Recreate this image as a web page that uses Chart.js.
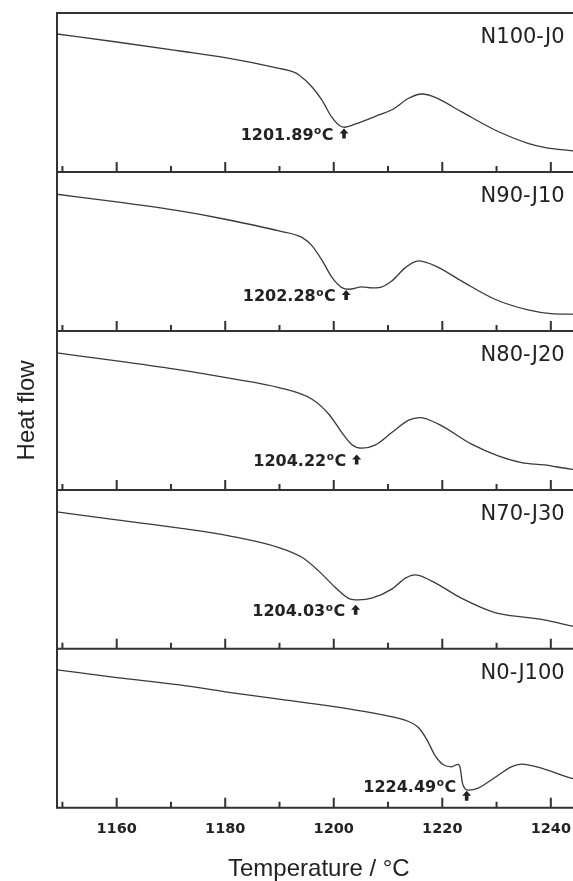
<!DOCTYPE html>
<html>
<head>
<meta charset="utf-8">
<script src="https://cdn.jsdelivr.net/npm/chart.js@4.4.1/dist/chart.umd.min.js"></script>
<style>
  html, body { margin: 0; padding: 0; background: #fff; overflow: hidden; }
  #wrap { width: 573px; height: 881px; overflow: hidden; }
</style>
</head>
<body>
<div id="wrap"><canvas id="dsc" width="584" height="881"></canvas></div>
<script>
// sample names (top to bottom)
const samples = ['N100-J0', 'N90-J10', 'N80-J20', 'N70-J30', 'N0-J100'];

// temperature readings and heat flow (arbitrary units) for each sample
const tN100 = [1149, 1160, 1171.6, 1180, 1189.9, 1192.4, 1193.6, 1196, 1197.8, 1199.6, 1200.9, 1202, 1204, 1208.3, 1211, 1213.8, 1216.2, 1218.7, 1223.5, 1229.7, 1235.8, 1238.8, 1243.7, 1246];
const hN100 = [138, 130, 121, 114.3, 103.7, 100.3, 97, 85, 72, 55, 47, 44.7, 48, 57, 63, 73.7, 78, 74.7, 60.3, 42, 28.7, 24.7, 21.3, 20];

const tN90 = [1149, 1160, 1171.6, 1180, 1189.9, 1194.2, 1196, 1197.9, 1199.7, 1201.5, 1202.8, 1205.2, 1207, 1208.3, 1210.7, 1213.2, 1215.6, 1218.7, 1223.5, 1229.7, 1235.8, 1240, 1243.7, 1246];
const hN90 = [136.7, 129, 120, 111.7, 100, 93.3, 85, 70, 53.3, 43.3, 41.7, 44, 43, 43.3, 50, 63.3, 70, 65, 50, 31.7, 21, 17.3, 16.7, 16.5];

const tN80 = [1149, 1160, 1171.6, 1180.7, 1189.9, 1196, 1199.1, 1201.5, 1203.4, 1205.2, 1207.6, 1210.7, 1213.8, 1215.9, 1219.3, 1225.4, 1230.3, 1234.6, 1238.8, 1243.7, 1246];
const hN80 = [137, 129, 120, 111.7, 102.3, 90.7, 75.7, 57.3, 45, 41.7, 44.7, 57.3, 69.7, 72.3, 65.7, 45.7, 34, 27.3, 25, 20.7, 19.5];

const tN70 = [1149, 1160, 1171.6, 1180.7, 1189.9, 1194.2, 1197.2, 1200.3, 1202.8, 1204.6, 1207, 1210.7, 1213.2, 1215, 1218, 1223.5, 1229.7, 1235.8, 1238.8, 1243.7, 1246];
const hN70 = [137, 129, 120.7, 113, 101.3, 91.3, 78, 61.3, 50.3, 49, 50.7, 59.7, 70.7, 74, 68, 50.7, 36.3, 31.3, 29, 23, 21];

const tN0 = [1149, 1160, 1171.6, 1180, 1189.9, 1208.3, 1213.8, 1215.6, 1217.1, 1218.7, 1220.2, 1221.7, 1222.9, 1223.3, 1223.7, 1224.3, 1224.8, 1226.6, 1229.7, 1232.7, 1234.6, 1238.8, 1243.7, 1246];
const hN0 = [138, 130.3, 123, 116, 108.7, 93.7, 86.3, 80.3, 68.7, 52, 43, 41, 43.5, 40, 25, 18.5, 17.7, 19.7, 30.3, 41, 43.7, 38.7, 29.7, 27];

// marked temperatures
const peakTemps = [1201.89, 1202.28, 1204.22, 1204.03, 1224.49];

// x axis ticks
const majorTicks = [1160, 1180, 1200, 1220, 1240];
const minorTicks = [1150, 1170, 1190, 1210, 1230];

const temps = [tN100, tN90, tN80, tN70, tN0];
const flows = [hN100, hN90, hN80, hN70, hN0];

// where the arrow / text sit inside each panel (panel units, 0 = bottom)
const arrowLift = [38.5, 36, 30.5, 39, 12];
const textLift = [36.5, 34, 28.5, 37, 20.3];

const panelIds = samples.map((s, i) => 'y' + i);

const datasets = samples.map((name, i) => ({
    label: name,
    data: temps[i].map((t, k) => ({ x: t, y: flows[i][k] })),
    yAxisID: panelIds[i],
    borderColor: '#3a3a3a',
    borderWidth: 1.3,
    pointRadius: 0,
    fill: false,
    cubicInterpolationMode: 'monotone'
}));

const scales = {
    x: {
        type: 'linear',
        min: 1149,
        max: 1245.5,
        grid: { display: false, drawTicks: false },
        border: { display: false },
        afterBuildTicks: (axis) => { axis.ticks = majorTicks.map(v => ({ value: v })); },
        ticks: {
            padding: 13,
            color: '#222',
            font: { family: 'DejaVu Sans', size: 14.5, weight: 'bold' },
            callback: (v) => String(v)
        },
        title: {
            display: true,
            text: 'Temperature / °C',
            color: '#222',
            font: { family: 'Liberation Sans', size: 24 },
            padding: { top: 4, bottom: -3 }
        }
    }
};
// defined last-first so the first sample ends up on top of the stack
for (let i = panelIds.length - 1; i >= 0; i--) {
    scales[panelIds[i]] = {
        type: 'linear',
        position: 'left',
        stack: 'panels',
        stackWeight: 1,
        min: 0,
        max: 159,
        ticks: { display: false },
        grid: { display: false, drawTicks: false },
        border: { display: false }
    };
}

function drawArrow(ctx, x, y) {
    // small filled up arrow centered on (x, y)
    ctx.beginPath();
    ctx.moveTo(x, y - 5);
    ctx.lineTo(x + 4.5, y);
    ctx.lineTo(x + 1.8, y);
    ctx.lineTo(x + 1.8, y + 5);
    ctx.lineTo(x - 1.8, y + 5);
    ctx.lineTo(x - 1.8, y);
    ctx.lineTo(x - 4.5, y);
    ctx.closePath();
    ctx.fill();
}

const panelFrame = {
    id: 'panelFrame',
    afterDatasetsDraw(chart) {
        const { ctx, chartArea: a } = chart;
        const xs = chart.scales.x;
        ctx.save();
        ctx.strokeStyle = '#333';
        ctx.lineWidth = 2;
        ctx.beginPath();
        ctx.moveTo(a.left, a.top);
        ctx.lineTo(a.right, a.top);
        ctx.moveTo(a.left, a.top - 1);
        ctx.lineTo(a.left, a.bottom + 1);
        ctx.stroke();

        panelIds.forEach((id, i) => {
            const ys = chart.scales[id];
            const b = ys.bottom;
            ctx.strokeStyle = '#333';
            ctx.lineWidth = 2;
            ctx.beginPath();
            ctx.moveTo(a.left, b);
            ctx.lineTo(a.right, b);
            majorTicks.forEach(v => {
                const px = xs.getPixelForValue(v);
                ctx.moveTo(px, b);
                ctx.lineTo(px, b - 10);
            });
            minorTicks.forEach(v => {
                const px = xs.getPixelForValue(v);
                ctx.moveTo(px, b);
                ctx.lineTo(px, b - 6);
            });
            ctx.stroke();

            // sample name
            ctx.fillStyle = '#222';
            ctx.font = '21px "DejaVu Sans"';
            ctx.textAlign = 'right';
            ctx.textBaseline = 'alphabetic';
            ctx.fillText(samples[i], a.right - 16, ys.top + 30);

            // marked temperature with arrow
            const ax = xs.getPixelForValue(peakTemps[i]);
            drawArrow(ctx, ax, ys.getPixelForValue(arrowLift[i]));
            const ty = ys.getPixelForValue(textLift[i]);
            ctx.textBaseline = 'middle';
            const big = 'bold 16px "DejaVu Sans"';
            const small = 'bold 10.5px "DejaVu Sans"';
            let right = ax - 10.5;
            ctx.font = big;
            ctx.textAlign = 'right';
            ctx.fillText('C', right, ty);
            right -= ctx.measureText('C').width + 0.5;
            ctx.font = small;
            ctx.fillText('o', right, ty - 4);
            right -= ctx.measureText('o').width + 0.5;
            ctx.font = big;
            ctx.fillText(peakTemps[i].toFixed(2), right, ty);
        });

        // y axis title
        ctx.translate(27, (a.top + a.bottom) / 2);
        ctx.rotate(-Math.PI / 2);
        ctx.font = '24px "Liberation Sans"';
        ctx.textAlign = 'center';
        ctx.textBaseline = 'middle';
        ctx.fillStyle = '#222';
        ctx.fillText('Heat flow', 0, 0);
        ctx.restore();
    }
};

new Chart(document.getElementById('dsc'), {
    type: 'line',
    data: { datasets: datasets },
    options: {
        responsive: false,
        animation: false,
        layout: { padding: { left: 57, top: 13, right: 0, bottom: 0 } },
        plugins: { legend: { display: false }, tooltip: { enabled: false } },
        scales: scales
    },
    plugins: [panelFrame]
});
</script>
</body>
</html>
